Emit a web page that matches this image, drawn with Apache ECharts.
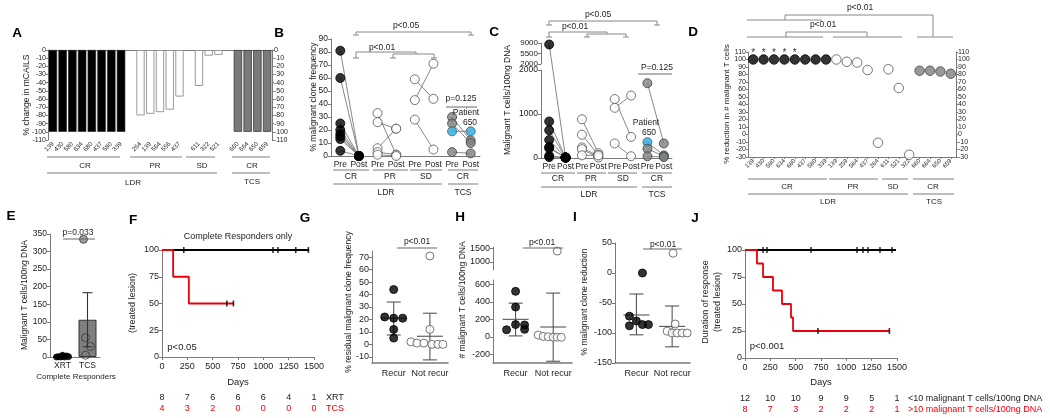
<!DOCTYPE html>
<html><head><meta charset="utf-8">
<script src="https://cdn.jsdelivr.net/npm/echarts@6.0.0/dist/echarts.min.js"></script>
<style>html,body{margin:0;padding:0;background:#fff;}#chart{width:1050px;height:418px;}</style>
</head><body><div id="chart"></div>
<script>
// ================= DATA =================
// Panel A: % change in mCAILS
const aCatCR  = ['139','430','580','634','680','437','580','339'];
const aCatPR  = ['264','139','564','556','437'];
const aCatSD  = ['611','322','521'];
const aCatTCS = ['660','664','650','659'];
const aValCR  = [-100,-100,-100,-100,-100,-100,-100,-100];
const aValPR  = [-80,-78,-76,-73,-57];
const aValSD  = [-44,-7,-6];
const aValTCS = [-100,-100,-100,-100];

// Panel B: % malignant clone frequency (pre -> post)
const bCats = ['Pre','Post','Pre','Post','Pre','Post','Pre','Post'];
const bCRpre  = [81,60,25,20,17,15,13,4];
const bCRpost = [0,0,0,0,0,0,0,0];
const bPRpre  = [33,26,6,3,1];
const bPRpost = [1,21,21,1,0];
const bSDpre  = [59,43,28];
const bSDpost = [44,71,5];
const bTCSpre  = [30,25,19,3];
const bTCSpost = [12,10,19,2];
const bPatient650 = 2;

// Panel C: malignant T cells / 100ng DNA (pre -> post)
const cCRpre  = [8500,830,630,410,250,220,50,20];
const cCRpost = [10,10,10,10,10,10,10,10];
const cPRpre  = [880,530,240,200,60];
const cPRpost = [110,70,40,10,60];
const cSDpre  = [1340,1140,330];
const cSDpost = [480,1420,40];
const cTCSpre  = [1700,360,210,40];
const cTCSpost = [330,60,40,20];
const cPatient650 = 1;
const cTopTicks = [2000,5500,9000];

// Panel D: % reduction in # malignant T cells
const dCatCR  = ['139','430','580','634','680','437','580','339'];
const dCatPR  = ['139','259','564','437','264'];
const dCatSD  = ['611','521','322'];
const dCatTCS = ['660','664','650','659'];
const dValCR  = [100,100,100,100,100,100,100,100];
const dValPR  = [100,97,96,86,-11];
const dValSD  = [87,62,-27];
const dValTCS = [85,85,84,81];
const dStarCR = [1,1,1,1,1,0,0,0];

// Panel E
const eCats = ['XRT','TCS'];
const eXRTpts = [0,0,0,1,1,2,3,5];
const eTCSpts = [335,55,30,5];
const eBarMean = [4,106];
const eErrLo = [2,29];
const eErrHi = [6,183];

// Panel F (Kaplan-Meier, complete responders)
const fXRTcurve = [[0,100],[1450,100]];
const fTCScurve = [[0,100],[110,75],[265,50],[710,50]];
const fXRTcensor = [215,1095,1145,1320,1445];
const fTCScensor = [640,705];
const riskDays = [0,250,500,750,1000,1250,1500];
const fRiskXRT = [8,7,6,6,6,4,1];
const fRiskTCS = [4,3,2,0,0,0,0];

// Panels G, H, I
const gpCats = ['Recur','Not recur'];
const gRecur = [44,22,21,21,12,5];
const gNot   = [71,12,2,1,1,0,0,0];
const gMean = [21,6.5], gLo = [7.5,-12.5], gHi = [34,25];
const hRecur = [520,340,80,140,135,85];
const hNot   = [1400,20,5,0,-5,-5,-5];
const hMean = [200,112], hLo = [10,-280], hHi = [385,500];
const hTopTicks = [1000,1500];
const hBotTicks = [-200,0,200,400,600];
const iRecur = [0,-72,-80,-88,-86,-86];
const iNot   = [33,-85,-97,-100,-100,-100,-100];
const iMean = [-70,-89], iLo = [-103,-123], iHi = [-35,-55];
const gTicks = [-10,0,10,20,30,40,50,60,70];

// Panel J
const jLowCurve  = [[0,100],[1490,100]];
const jHighCurve = [[0,100],[118,87.5],[178,75],[276,62.5],[365,50],[454,37.5],[474,25],[1425,25]];
const jLowCensor  = [178,217,651,1105,1164,1214,1332,1450];
const jHighCensor = [720,1425];
const jRiskLow  = [12,10,10,9,9,5,1];
const jRiskHigh = [8,7,3,2,2,2,1];

// ================= LAYOUT / STYLE =================
const FONT = 'Liberation Sans, Arial, Helvetica, sans-serif';
const AXC = '#7a7a7a';
const RED = '#e8000b';
const CYAN = '#22abe3';
const JIT = { // horizontal beeswarm offsets, px
  eXRT:[-6,-2,2,6,-4,0,4,0], eTCS:[-4,-2,3,-2],
  gRecur:[0,-9,0,9,0,0], gNot:[0,0,-19,-13,-6,2,8,13],
  hRecur:[0,0,-9,0,9,9], hNot:[4,-15,-10,-5,0,4,8],
  iRecur:[6,-7,0,-7,6,12], iNot:[1,3,-5,0,5,10,15]
};
const G = [
  {left:48,  top:50,  width:224, height:90},  // 0 A
  {left:331, top:39,  width:149, height:117}, // 1 B
  {left:541, top:43,  width:131, height:21},  // 2 C top
  {left:541, top:70,  width:131, height:88},  // 3 C bottom
  {left:748, top:52,  width:208, height:105}, // 4 D
  {left:50,  top:234, width:50,  height:123}, // 5 E
  {left:162, top:250, width:152, height:107}, // 6 F
  {left:372, top:251, width:76,  height:112}, // 7 G
  {left:493, top:247, width:79,  height:23},  // 8 H top
  {left:493, top:280, width:79,  height:83},  // 9 H bottom
  {left:615, top:243, width:75,  height:120}, // 10 I
  {left:745, top:250, width:152, height:108}  // 11 J
].map(g => Object.assign({show:false, containLabel:false, outerBoundsMode:'none'}, g));

const dotBlack = {color:'#000', borderColor:'#000', borderWidth:1};
const dotOpen  = {color:'#fff', borderColor:'#555', borderWidth:1};
const dotGray  = {color:'#808080', borderColor:'#444', borderWidth:1};
const dotCyan  = {color:CYAN, borderColor:'#555', borderWidth:1};
const plainNum = (v) => String(v);

function vAx(gi, min, max, o) {
  o = o || {};
  const a = {gridIndex:gi, type:'value', min:min, max:max, position:o.pos || 'left',
    axisLine:{show:true, onZero:false, lineStyle:{color:AXC, width:o.lw || 1}},
    axisTick:{show:o.ticks !== false, length:o.tl || 3, lineStyle:{color:AXC}},
    axisLabel:{show:o.labels !== false, fontSize:o.fs || 8.5, color:'#222', margin:o.margin || 3, fontFamily:FONT,
      formatter:o.fmt || plainNum},
    splitLine:{show:false}};
  if (o.interval) a.interval = o.interval;
  if (o.custom) { a.axisLabel.customValues = o.custom; a.axisTick.customValues = o.custom; }
  if (o.hide) a.show = false;
  return a;
}
function cAx(gi, cats, o) {
  o = o || {};
  return {gridIndex:gi, type:'category', data:cats.map((_, i) => String(i)), position:o.pos || 'bottom',
    show: o.hide ? false : true,
    axisLine:{show:o.line !== false, onZero:false, lineStyle:{color:AXC, width:1}},
    axisTick:{show:!!o.ticks, length:2, alignWithLabel:true, lineStyle:{color:AXC}},
    axisLabel:{show:o.labels !== false, interval:0, rotate:o.rot || 0, fontSize:o.fs || 8.5, color:'#222',
      margin:o.margin || 4, fontFamily:FONT, formatter:(v, i) => cats[i]},
    splitLine:{show:false}};
}

// ================= AXES =================
const aCats = [].concat(aCatCR, [''], aCatPR, [''], aCatSD, [''], aCatTCS);
const dCats = [].concat(dCatCR, dCatPR, dCatSD, dCatTCS);
const catFmt = (v) => (v === 1 ? gpCats[0] : gpCats[1]);
const eFmt = (v) => (v === 1 ? eCats[0] : eCats[1]);

const xAxis = [
  cAx(0, aCats, {line:false, rot:45, fs:6.3, margin:3}),                 // 0
  cAx(0, aCats, {pos:'top', labels:false}),                               // 1
  cAx(1, bCats, {fs:8.5, margin:4}),                                      // 2
  cAx(2, bCats, {hide:true}),                                             // 3
  cAx(3, bCats, {fs:8.5, margin:4}),                                      // 4
  cAx(4, dCats, {rot:45, fs:6, margin:3, ticks:true}),                    // 5
  vAx(5, 0.5, 2.5, {custom:[1,2], fmt:eFmt, ticks:false, margin:4}),      // 6
  vAx(6, 0, 1500, {interval:250, fs:9, margin:5}),                        // 7
  vAx(7, 0.4, 2.5, {custom:[1,2], fmt:catFmt, ticks:false, margin:6, fs:9, lw:1.5}), // 8
  vAx(8, 0.4, 2.5, {hide:true}),                                          // 9
  vAx(9, 0.4, 2.5, {custom:[1,2], fmt:catFmt, ticks:false, margin:6, fs:9, lw:1.5}), // 10
  vAx(10, 0.4, 2.5, {custom:[1,2], fmt:catFmt, ticks:false, margin:6, fs:9, lw:1.5}),// 11
  vAx(11, 0, 1500, {interval:250, fs:9, margin:5})                        // 12
];
xAxis.forEach(a => { a.position = a.position === 'top' ? 'top' : 'bottom'; });

const yAxis = [
  vAx(0, -110, 0, {interval:10, fs:7, tl:2, margin:2}),                   // 0 A left
  vAx(0, -110, 0, {interval:10, fs:7, tl:2, margin:2, pos:'right'}),      // 1 A right
  vAx(1, 0, 90, {interval:10, fs:8.5}),                                   // 2 B
  vAx(2, 2000, 9000, {custom:cTopTicks, fs:8}),                           // 3 C top
  vAx(3, 0, 2000, {interval:1000, fs:8.5}),                               // 4 C bottom
  vAx(4, -30, 110, {interval:10, fs:7, tl:2, margin:2}),                  // 5 D left
  vAx(4, -30, 110, {interval:10, fs:7, tl:2, margin:2, pos:'right'}),     // 6 D right
  vAx(5, 0, 350, {interval:50, fs:8.5}),                                  // 7 E
  vAx(6, 0, 100, {interval:25, fs:9}),                                    // 8 F
  vAx(7, -15, 75, {custom:gTicks, fs:9}),                                 // 9 G
  vAx(8, 700, 1550, {custom:hTopTicks, fs:9}),                            // 10 H top
  vAx(9, -300, 650, {custom:hBotTicks, fs:9}),                            // 11 H bottom
  vAx(10, -150, 50, {interval:50, fs:9}),                                 // 12 I
  vAx(11, 0, 100, {interval:25, fs:9})                                    // 13 J
];

// ================= SERIES =================
const series = [];
// A bars
const barCR = {color:'#000', borderColor:'#222', borderWidth:0.6};
const barOpen = {color:'#fff', borderColor:'#9a9a9a', borderWidth:1};
const barTCS = {color:'#7a7a7a', borderColor:'#3a3a3a', borderWidth:0.8};
const aData = [];
aValCR.forEach(v => aData.push({value:v, itemStyle:barCR}));
aData.push('-');
aValPR.forEach(v => aData.push({value:v, itemStyle:barOpen}));
aData.push('-');
aValSD.forEach(v => aData.push({value:v, itemStyle:barOpen}));
aData.push('-');
aValTCS.forEach(v => aData.push({value:v, itemStyle:barTCS}));
series.push({type:'bar', xAxisIndex:0, yAxisIndex:0, data:aData, barCategoryGap:'14%', silent:true});

// pre/post helper
const cross = [];
function prePost(xi, yi, preIdx, pre, post, sty, hiIdx, topCfg) {
  const pts = [], topPts = [];
  pre.forEach((v, i) => {
    const st = (i === hiIdx) ? dotCyan : sty;
    if (topCfg && v > topCfg.max) {
      topPts.push({value:[preIdx, v], itemStyle:st});
      cross.push({a:[topCfg.xi, topCfg.yi, preIdx, v], b:[xi, yi, preIdx + 1, post[i]]});
    } else {
      series.push({type:'line', xAxisIndex:xi, yAxisIndex:yi, data:[[preIdx, v], [preIdx + 1, post[i]]],
        symbol:'none', lineStyle:{color:'#6a6a6a', width:0.8}, z:2, silent:true, clip:false});
      pts.push({value:[preIdx, v], itemStyle:st});
    }
    pts.push({value:[preIdx + 1, post[i]], itemStyle:st});
  });
  series.push({type:'scatter', xAxisIndex:xi, yAxisIndex:yi, data:pts, symbolSize:9, z:3, silent:true, clip:false});
  if (topPts.length) series.push({type:'scatter', xAxisIndex:topCfg.xi, yAxisIndex:topCfg.yi, data:topPts, symbolSize:9, z:3, silent:true});
}
// B
prePost(2, 2, 0, bCRpre, bCRpost, dotBlack, -1);
prePost(2, 2, 2, bPRpre, bPRpost, dotOpen, -1);
prePost(2, 2, 4, bSDpre, bSDpost, dotOpen, -1);
prePost(2, 2, 6, bTCSpre, bTCSpost, dotGray, bPatient650);
// C
const cTop = {max:2000, xi:3, yi:3};
prePost(4, 4, 0, cCRpre, cCRpost, dotBlack, -1, cTop);
prePost(4, 4, 2, cPRpre, cPRpost, dotOpen, -1, cTop);
prePost(4, 4, 4, cSDpre, cSDpost, dotOpen, -1, cTop);
prePost(4, 4, 6, cTCSpre, cTCSpost, dotGray, cPatient650, cTop);

// D
function dScatter(vals, off, sty) {
  series.push({type:'scatter', xAxisIndex:5, yAxisIndex:5, symbolSize:9.5, silent:true, z:3,
    data:vals.map((v, i) => ({value:[off + i, v], itemStyle:sty})), clip:false});
}
dScatter(dValCR, 0, dotBlack);
dScatter(dValPR, dCatCR.length, dotOpen);
dScatter(dValSD, dCatCR.length + dCatPR.length, dotOpen);
dScatter(dValTCS, dCatCR.length + dCatPR.length + dCatSD.length, dotGray);
series.push({type:'scatter', xAxisIndex:5, yAxisIndex:5, symbolSize:1, silent:true, clip:false,
  itemStyle:{color:'rgba(0,0,0,0)'},
  label:{show:true, position:'inside', formatter:'*', fontSize:10, color:'#000', fontFamily:FONT},
  data:dStarCR.map((f, i) => f ? [i, 108] : null).filter(Boolean)});

// error bar custom series
function errSeries(xi, yi, xs, m, lo, hi, mw, cw, col) {
  series.push({type:'custom', xAxisIndex:xi, yAxisIndex:yi, z:4, silent:true, clip:false,
    data:xs.map((x, k) => [x, m[k], lo[k], hi[k]]),
    renderItem:function (params, api) {
      const x = api.value(0);
      const pm = api.coord([x, api.value(1)]), pl = api.coord([x, api.value(2)]), ph = api.coord([x, api.value(3)]);
      const st = {stroke:col || '#555', lineWidth:1.1};
      const ch = [
        {type:'line', shape:{x1:pm[0], y1:ph[1], x2:pm[0], y2:pl[1]}, style:st},
        {type:'line', shape:{x1:pm[0] - cw, y1:ph[1], x2:pm[0] + cw, y2:ph[1]}, style:st},
        {type:'line', shape:{x1:pm[0] - cw, y1:pl[1], x2:pm[0] + cw, y2:pl[1]}, style:st}];
      if (mw > 0) ch.push({type:'line', shape:{x1:pm[0] - mw, y1:pm[1], x2:pm[0] + mw, y2:pm[1]}, style:st});
      return {type:'group', children:ch};
    }});
}
function pxUnit(gi, xmin, xmax) { return (xmax - xmin) / G[gi].width; }
function swarm(xi, yi, xc, vals, jit, unit, sty, size) {
  series.push({type:'scatter', xAxisIndex:xi, yAxisIndex:yi, symbolSize:size, z:5, silent:true, clip:false,
    data:vals.map((v, k) => ({value:[xc + jit[k] * unit, v], itemStyle:sty}))});
}

// E
series.push({type:'bar', xAxisIndex:6, yAxisIndex:7, barWidth:18, silent:true, z:2,
  data:[{value:[1, eBarMean[0]], itemStyle:{color:'#000', borderColor:'#000', borderWidth:1}},
        {value:[2, eBarMean[1]], itemStyle:{color:'#7f7f7f', borderColor:'#333', borderWidth:1}}]});
errSeries(6, 7, [1, 2], eBarMean, eErrLo, eErrHi, 0, 5, '#333');
const uE = pxUnit(5, 0.5, 2.5);
swarm(6, 7, 1, eXRTpts, JIT.eXRT, uE, {color:'#000', borderColor:'#000'}, 6);
swarm(6, 7, 2, eTCSpts.slice(0, 1), JIT.eTCS.slice(0, 1), uE, {color:'#8a8a8a', borderColor:'#333', borderWidth:1}, 8);
swarm(6, 7, 2, eTCSpts.slice(1), JIT.eTCS.slice(1), uE, {color:'rgba(0,0,0,0)', borderColor:'#333', borderWidth:1}, 8);

// KM helper
function survAt(curve, t) { let s = curve[0][1]; curve.forEach(p => { if (p[0] <= t) s = p[1]; }); return s; }
function km(xi, yi, curve, col, cens) {
  series.push({type:'line', xAxisIndex:xi, yAxisIndex:yi, data:curve, step:'end', symbol:'none', silent:true, clip:false,
    lineStyle:{color:col, width:1.8}, z:3});
  series.push({type:'scatter', xAxisIndex:xi, yAxisIndex:yi, symbol:'rect', symbolSize:[1.6, 6], silent:true, clip:false,
    itemStyle:{color:'#000'}, z:4, data:cens.map(t => [t, survAt(curve, t)])});
}
km(7, 8, fXRTcurve, '#000', fXRTcensor);
km(7, 8, fTCScurve, RED, fTCScensor);
km(12, 13, jLowCurve, '#000', jLowCensor);
km(12, 13, jHighCurve, RED, jHighCensor);

// G
const uG = pxUnit(7, 0.4, 2.5);
swarm(8, 9, 1, gRecur, JIT.gRecur, uG, dotBlack, 8);
swarm(8, 9, 2, gNot, JIT.gNot, uG, dotOpen, 8);
errSeries(8, 9, [1, 2], gMean, gLo, gHi, 13, 7);
// H (broken axis)
const uH = pxUnit(9, 0.4, 2.5);
swarm(10, 11, 1, hRecur, JIT.hRecur, uH, dotBlack, 8);
swarm(10, 11, 2, hNot.filter(v => v <= 650), JIT.hNot.filter((_, k) => hNot[k] <= 650), uH, dotOpen, 8);
swarm(9, 10, 2, hNot.filter(v => v > 650), JIT.hNot.filter((_, k) => hNot[k] > 650), uH, dotOpen, 8);
errSeries(10, 11, [1, 2], hMean, hLo, hHi, 13, 7);
// I
const uI = pxUnit(10, 0.4, 2.5);
swarm(11, 12, 1, iRecur, JIT.iRecur, uI, dotBlack, 8);
swarm(11, 12, 2, iNot, JIT.iNot, uI, dotOpen, 8);
errSeries(11, 12, [1, 2], iMean, iLo, iHi, 13, 7);

// ================= RENDER =================
const chart = echarts.init(document.getElementById('chart'), null, {renderer:'canvas'});
chart.setOption({animation:false, backgroundColor:'#fff', textStyle:{fontFamily:FONT},
  grid:G, xAxis:xAxis, yAxis:yAxis, series:series});

function T(x, y, text, o) {
  o = o || {};
  const al = o.align || 'center';
  return {type:'text', x:x, y:y, rotation:o.rot || 0, silent:true, z:50,
    style:{text:text, x:0, y:0, fill:o.color || '#222', fontSize:o.size || 8.5, fontFamily:FONT,
      fontWeight:o.bold ? 'bold' : 'normal', align:al, textAlign:al, verticalAlign:'middle', textVerticalAlign:'middle'}};
}
function L(pts, o) {
  o = o || {};
  return {type:'polyline', silent:true, z:o.z || 40, shape:{points:pts}, style:{stroke:o.color || '#888', lineWidth:o.w || 1, fill:'none'}};
}
function cap(x, y) { return L([[x - 3, y], [x + 3, y]]); }
const GL = {color:'#a8a8a8', w:1.5};
const R90 = Math.PI / 2;
const gr = [];
// panel letters
[['A',17,33],['B',279,33],['C',494,32],['D',693,32],['E',11,216],['F',133,220],['G',305,218],['H',460,217],['I',575,217],['J',695,218]]
  .forEach(p => gr.push(T(p[1], p[2], p[0], {size:13.5, bold:true, color:'#000'})));

// ---- A
gr.push(T(27, 95, '% change in mCAILS', {rot:R90, size:8.5}));
[[47,120],[130,182],[186,215],[232,270]].forEach(s => gr.push(L([[s[0],157],[s[1],157]], GL)));
[['CR',85],['PR',155],['SD',202],['CR',252]].forEach(s => gr.push(T(s[1], 166, s[0], {size:8})));
[[47,217],[232,270]].forEach(s => gr.push(L([[s[0],173],[s[1],173]], GL)));
gr.push(T(133, 183, 'LDR', {size:8})); gr.push(T(252, 182, 'TCS', {size:8}));

// ---- B
gr.push(T(314, 97, '% malignant clone frequency', {rot:R90, size:8.5}));
gr.push(L([[356,35],[356,32],[471,32],[471,35]])); gr.push(cap(356,35)); gr.push(cap(471,35));
gr.push(T(406, 26, 'p<0.05'));
gr.push(L([[356,58],[356,52],[416,52],[416,54]])); gr.push(L([[393,58],[393,54],[434,54],[434,58]]));
gr.push(cap(356,58)); gr.push(cap(393,58)); gr.push(cap(434,58));
gr.push(T(382, 48, 'p<0.01'));
gr.push(T(461, 99, 'p=0.125')); gr.push(L([[446,107],[477,107]], {color:'#666'}));
gr.push(T(466, 113, 'Patient')); gr.push(T(470, 123, '650'));
[[333,369],[373,408],[410,442],[448,478]].forEach(s => gr.push(L([[s[0],170],[s[1],170]], GL)));
[['CR',351],['PR',390],['SD',426],['CR',463]].forEach(s => gr.push(T(s[1], 177, s[0], {size:8.5})));
[[333,442],[448,478]].forEach(s => gr.push(L([[s[0],184],[s[1],184]], GL)));
gr.push(T(386, 193, 'LDR', {size:8.5})); gr.push(T(463, 193, 'TCS', {size:8.5}));

// ---- C
gr.push(T(508, 100, 'Malignant T cells/100ng DNA', {rot:R90, size:8.5}));
gr.push(L([[549,25],[549,21],[657,21],[657,25]])); gr.push(cap(549,25)); gr.push(cap(657,25));
gr.push(T(598, 15, 'p<0.05'));
gr.push(L([[549,37],[549,32],[607,32],[607,34]])); gr.push(L([[587,37],[587,34],[626,34],[626,37]]));
gr.push(cap(549,37)); gr.push(cap(587,37)); gr.push(cap(626,37));
gr.push(T(575, 27, 'p<0.01'));
gr.push(T(657, 68, 'P=0.125')); gr.push(L([[638,74],[672,74]], {color:'#666'}));
gr.push(T(646, 123, 'Patient')); gr.push(T(649, 133, '650'));
[[541,575],[577,606],[608,637],[642,672]].forEach(s => gr.push(L([[s[0],173],[s[1],173]], GL)));
[['CR',558],['PR',591],['SD',623],['CR',657]].forEach(s => gr.push(T(s[1], 179, s[0], {size:8.5})));
[[541,637],[642,672]].forEach(s => gr.push(L([[s[0],187],[s[1],187]], GL)));
gr.push(T(589, 195, 'LDR', {size:8.5})); gr.push(T(657, 195, 'TCS', {size:8.5}));

// ---- D
gr.push(T(727, 104, '% reduction in # malignant T cells', {rot:R90, size:8}));
gr.push(L([[747,20],[822,20]])); gr.push(L([[785,20],[785,15],[933,15],[933,37]])); gr.push(L([[917,37],[953,37]]));
gr.push(T(860, 8, 'p<0.01'));
gr.push(L([[747,37],[823,37]])); gr.push(L([[786,37],[786,32],[867,32],[867,37]])); gr.push(L([[833,37],[902,37]]));
gr.push(T(823, 25, 'p<0.01'));
[[748,827],[829,878],[882,908],[913,954]].forEach(s => gr.push(L([[s[0],179],[s[1],179]], GL)));
[['CR',787],['PR',853],['SD',893],['CR',933]].forEach(s => gr.push(T(s[1], 187, s[0], {size:8})));
[[748,908],[913,954]].forEach(s => gr.push(L([[s[0],194],[s[1],194]], GL)));
gr.push(T(828, 202, 'LDR', {size:8})); gr.push(T(934, 202, 'TCS', {size:8}));

// ---- E
gr.push(T(25, 295, 'Malignant T cells/100ng DNA', {rot:R90, size:8.5}));
gr.push(T(78, 233, 'p=0.033')); gr.push(L([[63,239],[95,239]], {color:'#666'}));
gr.push(T(76, 377, 'Complete Responders', {size:8}));

// ---- F
gr.push(T(238, 237, 'Complete Responders only', {size:9}));
gr.push(T(133, 303, '(treated lesion)', {rot:R90, size:9}));
gr.push(T(182, 347, 'p<0.05', {size:9.5}));
gr.push(T(238, 382, 'Days', {size:9.5}));
gr.push(T(326, 398, 'XRT', {size:9, align:'left'}));
gr.push(T(326, 409, 'TCS', {size:9, align:'left', color:RED}));

// ---- G H I
gr.push(T(349, 302, '% residual malignant clone frequency', {rot:R90, size:8.5}));
gr.push(T(417, 242, 'p<0.01')); gr.push(L([[397,248],[437,248]], {color:'#666'}));
gr.push(T(463, 300, '# malignant T cells/100ng DNA', {rot:R90, size:8.5}));
gr.push(T(542, 243, 'p<0.01')); gr.push(L([[523,248],[563,248]], {color:'#666'}));
gr.push(T(585, 302, '% malignant clone reduction', {rot:R90, size:8.5}));
gr.push(T(663, 245, 'p<0.01')); gr.push(L([[643,249],[682,249]], {color:'#666'}));

// ---- J
gr.push(T(706, 302, 'Duration of response', {rot:R90, size:9}));
gr.push(T(718, 302, '(treated lesion)', {rot:R90, size:9}));
gr.push(T(767, 346, 'p<0.001', {size:9.5}));
gr.push(T(821, 382, 'Days', {size:9.5}));
gr.push(T(908, 399, '<10 malignant T cells/100ng DNA', {size:9, align:'left'}));
gr.push(T(908, 410, '>10 malignant T cells/100ng DNA', {size:9, align:'left', color:RED}));

// at-risk numbers aligned with the day axes
const px = (xi, yi, pt) => chart.convertToPixel({xAxisIndex:xi, yAxisIndex:yi}, pt);
riskDays.forEach((d, k) => {
  const xF = px(7, 8, [d, 0])[0];
  gr.push(T(xF, 398, String(fRiskXRT[k]), {size:9}));
  gr.push(T(xF, 409, String(fRiskTCS[k]), {size:9, color:RED}));
  const xJ = px(12, 13, [d, 0])[0];
  gr.push(T(xJ, 399, String(jRiskLow[k]), {size:9}));
  gr.push(T(xJ, 410, String(jRiskHigh[k]), {size:9, color:RED}));
});
// connecting lines across the broken axis in C
cross.forEach(c => {
  const a = px(c.a[0], c.a[1], [c.a[2], c.a[3]]);
  const b = px(c.b[0], c.b[1], [c.b[2], c.b[3]]);
  gr.push(L([a, b], {color:'#6a6a6a', w:0.8, z:1}));
});

chart.setOption({graphic:{elements:gr}});
</script>
</body></html>
